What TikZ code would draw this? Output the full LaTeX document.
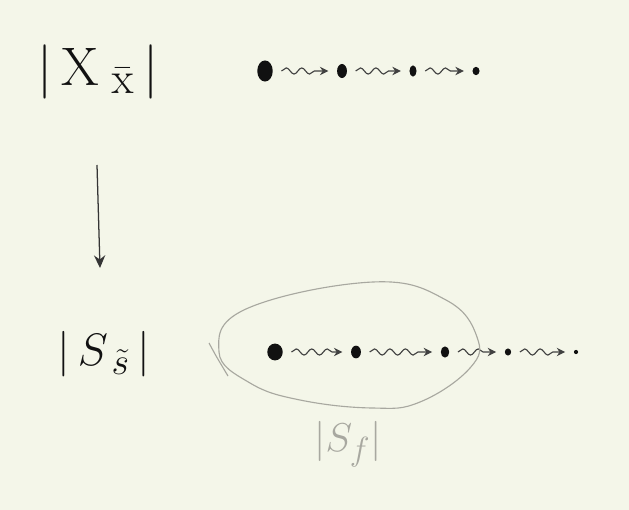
\documentclass[tikz,border=0pt]{standalone}
\usepackage{xcolor}
\definecolor{paper}{HTML}{F4F6E9}
\definecolor{ink}{HTML}{111111}
\definecolor{pencil}{HTML}{A8A8A0}
\usetikzlibrary{arrows.meta, positioning, shapes.geometric, decorations.pathmorphing}

\begin{document}
\begin{tikzpicture}[x=0.025cm, y=-0.025cm,
    dot/.style 2 args={ellipse, fill=ink, inner sep=0pt, minimum width=#1, minimum height=#2},
    squig/.style={draw=ink!80, line width=0.8pt, -{Stealth[length=6pt,width=6pt]},
      decorate, decoration={snake, amplitude=2.2pt, segment length=11pt, post length=6pt}},
    bigtext/.style={font=\Huge, scale=#1, text=ink}]
  \fill[paper] (0,0) rectangle (629,510);
  \useasboundingbox (0,0) rectangle (629,510);

  % labels
  \node[bigtext=1.55] (xlab) at (98,72) {$|\,\mathrm{X}_{\;\bar{\mathrm{x}}}\,|$};
  \node[bigtext=1.3] (slab) at (104,354) {$|\,S_{\,\tilde{s}}\,|$};
  \node[bigtext=1.15, text=pencil] (flab) at (348,444) {$|S_{f}|$};

  % projection arrow
  \coordinate (atop) at (97,165);
  \coordinate (abot) at (100,268);
  \draw[ink!85, line width=0.9pt, -{Stealth[length=9pt,width=8pt]}] (atop) -- (abot);

  % top chain
  \foreach \n/\x/\w/\h in {1/265/11pt/15pt, 2/342/7pt/10pt, 3/413/5pt/8pt, 4/476/5pt/6pt}
    \node[dot={\w}{\h}] (t\n) at (\x,71) {};
  \foreach \a/\b in {1/2, 2/3, 3/4}
    \draw[squig] ([xshift=6pt]t\a.east) -- ([xshift=-6pt]t\b.west);

  % bottom chain
  \foreach \n/\x/\w/\h in {1/275/11pt/12pt, 2/356/7pt/9pt, 3/445/6pt/8pt, 4/508/4.5pt/5pt, 5/576/3pt/3pt}
    \node[dot={\w}{\h}] (b\n) at (\x,352) {};
  \foreach \a/\b in {1/2, 2/3, 3/4, 4/5}
    \draw[squig] ([xshift=6pt]b\a.east) -- ([xshift=-6pt]b\b.west);

  % the loop round the first part of the chain
  \draw[pencil, line width=0.8pt] plot[smooth cycle, tension=0.7] coordinates
    {(219,352) (246,309) (373,282) (446,300) (477,337) (470,368) (420,402)
     (372,408) (300,400) (250,383)};
  \draw[pencil, line width=0.8pt] (209,343) .. controls (216,356) .. (228,376);
\end{tikzpicture}
\end{document}
